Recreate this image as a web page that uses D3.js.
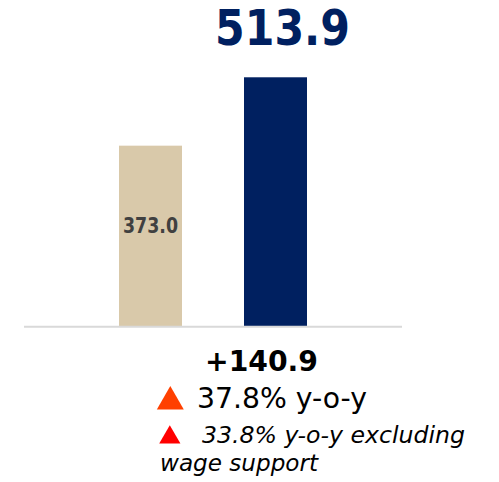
<!DOCTYPE html>
<html>
<head>
<meta charset="utf-8">
<script src="https://cdn.jsdelivr.net/npm/d3@7"></script>
<style>
  body { margin: 0; background: #fff; }
  text { font-family: "DejaVu Sans", Verdana, sans-serif; }
</style>
</head>
<body>
<div id="chart"></div>
<script>
// Values
var periods = ["prev", "curr"];
var values = [373.0, 513.9];
var barColors = ["#D9C9AA", "#002060"];
var change = "+140.9";
var notes = ["37.8% y-o-y", "33.8% y-o-y excluding", "wage support"];

var width = 499;
var height = 482;

var svg = d3.select("#chart").append("svg")
    .attr("width", width)
    .attr("height", height);

var x = d3.scaleBand()
    .domain(periods)
    .range([56.5, 369.5])
    .paddingInner(0.496)
    .paddingOuter(0.5);

var y = d3.scaleLinear()
    .domain([0, 600])
    .range([326.7, 35.5]);

// bars
svg.selectAll("rect.bar")
    .data(values)
    .enter().append("rect")
    .attr("class", "bar")
    .attr("x", function(d, i) { return x(periods[i]); })
    .attr("y", function(d) { return y(d); })
    .attr("width", x.bandwidth())
    .attr("height", function(d) { return y(0) - y(d); })
    .style("fill", function(d, i) { return barColors[i]; });

// baseline
svg.append("line")
    .attr("x1", 24).attr("x2", 402)
    .attr("y1", y(0)).attr("y2", y(0))
    .style("stroke", "#d9d9d9")
    .style("stroke-width", 2);

// label inside first bar
svg.append("text")
    .attr("x", x(periods[0]) + x.bandwidth() / 2)
    .attr("y", 233)
    .attr("text-anchor", "middle")
    .attr("textLength", 55)
    .attr("lengthAdjust", "spacingAndGlyphs")
    .style("font-size", "20.5px")
    .style("font-weight", "bold")
    .style("fill", "#404040")
    .text(values[0].toFixed(1));

// big label above second bar
svg.append("text")
    .attr("x", x(periods[1]) + x.bandwidth() / 2 + 7)
    .attr("y", 45)
    .attr("text-anchor", "middle")
    .attr("textLength", 135)
    .attr("lengthAdjust", "spacingAndGlyphs")
    .style("font-size", "50px")
    .style("font-weight", "bold")
    .style("fill", "#002060")
    .text(values[1].toFixed(1));

// change
svg.append("text")
    .attr("x", 261.5)
    .attr("y", 370.7)
    .attr("text-anchor", "middle")
    .attr("textLength", 113)
    .attr("lengthAdjust", "spacingAndGlyphs")
    .style("font-size", "28px")
    .style("font-weight", "bold")
    .style("fill", "#000")
    .text(change);

var tri = d3.symbol().type(d3.symbolTriangle);

svg.append("path")
    .attr("d", tri.size(315)())
    .attr("transform", "translate(170.3,401.6)")
    .style("fill", "#FF4000");

svg.append("text")
    .attr("x", 197)
    .attr("y", 407.7)
    .attr("textLength", 170)
    .attr("lengthAdjust", "spacingAndGlyphs")
    .style("font-size", "27.5px")
    .style("fill", "#000")
    .text(notes[0]);

svg.append("path")
    .attr("d", tri.size(195)())
    .attr("transform", "translate(169.8,437.4)")
    .style("fill", "#FF0000");

svg.append("text")
    .attr("x", 202)
    .attr("y", 443.3)
    .attr("textLength", 263)
    .attr("lengthAdjust", "spacingAndGlyphs")
    .style("font-size", "22.5px")
    .style("font-style", "italic")
    .style("fill", "#000")
    .text(notes[1]);

svg.append("text")
    .attr("x", 160)
    .attr("y", 470.5)
    .attr("textLength", 158)
    .attr("lengthAdjust", "spacingAndGlyphs")
    .style("font-size", "22.5px")
    .style("font-style", "italic")
    .style("fill", "#000")
    .text(notes[2]);
</script>
</body>
</html>
